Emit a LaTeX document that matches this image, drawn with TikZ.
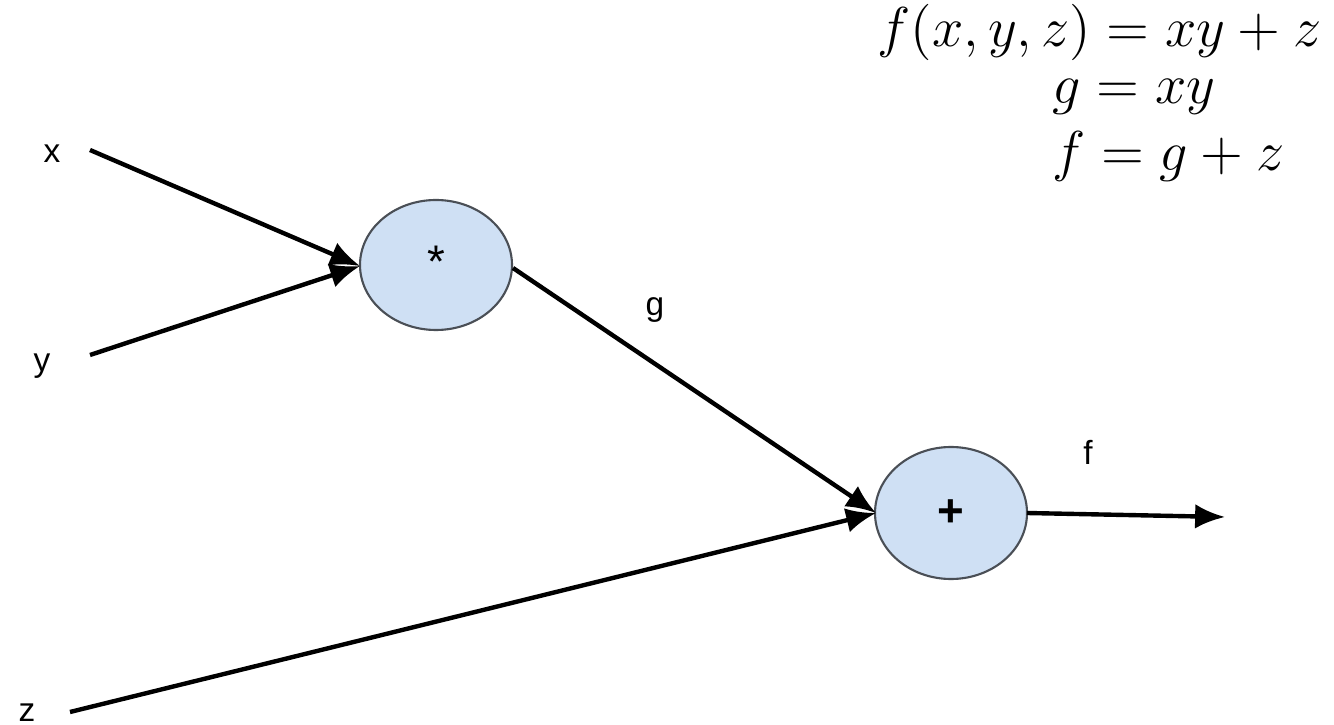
\documentclass[tikz,border=0pt]{standalone}
\usepackage{fontspec}
\setsansfont{Liberation Sans}
\usetikzlibrary{arrows.meta}
\definecolor{opfill}{HTML}{CFE0F4}
\definecolor{opdraw}{HTML}{4A4F56}
\begin{document}
\begin{tikzpicture}[x=0.01cm,y=-0.01cm,
  lbl/.style={font=\sffamily\fontsize{9.5}{10}\selectfont,inner sep=0pt},
  edge/.style={line width=1.25pt,-{Latex[length=8.5pt,width=7pt]}},
  eq/.style={font=\fontsize{15}{18}\selectfont,scale=1.11,inner sep=0pt,anchor=base west}]
\useasboundingbox (0,0) rectangle (1334,725);
% operator nodes drawn as ellipses
\path[draw=opdraw,line width=0.6pt,fill=opfill] (436,265) ellipse [x radius=76,y radius=65];
\path[draw=opdraw,line width=0.6pt,fill=opfill] (951,513) ellipse [x radius=76,y radius=66];
\node[inner sep=0pt,minimum width=152,minimum height=130] (star) at (436,265) {};
\node[inner sep=0pt,minimum width=152,minimum height=132] (plus) at (951,513) {};
\node[font=\sffamily\fontsize{13}{14}\selectfont] (startxt) at (436,262) {*};
\node[font=\sffamily\bfseries\fontsize{13}{14}\selectfont] (plustxt) at (951,513) {+};
% input labels
\node[lbl] (lx) at (52,154) {x};
\node[lbl] (ly) at (42,366) {y};
\node[lbl] (lz) at (27,713) {z};
\node[lbl] (lg) at (655,310) {g};
\node[lbl] (lf) at (1088,452) {f};
% connector end points
\coordinate (xs) at (90,150);
\coordinate (ys) at (90,355);
\coordinate (zs) at (70,712);
\coordinate (gs) at (513,268);
\coordinate (out) at (1225,517);
\coordinate (starin) at (360,266);
\coordinate (plusin) at (876,513);
\coordinate (plusout) at (1027,513);
\draw[edge] (xs) -- (starin);
\draw[edge] (ys) -- (starin);
\draw[edge] (gs) -- (plusin);
\draw[edge] (zs) -- (plusin);
\draw[edge] (plusout) -- (out);
% equations
\node[eq] (eq1) at (877,47) {$f(x,y,z) = xy + z$};
\node[eq] (eq2) at (1052,104) {$g = xy$};
\node[eq] (eq3) at (1052,171) {$f = g + z$};
\end{tikzpicture}
\end{document}
